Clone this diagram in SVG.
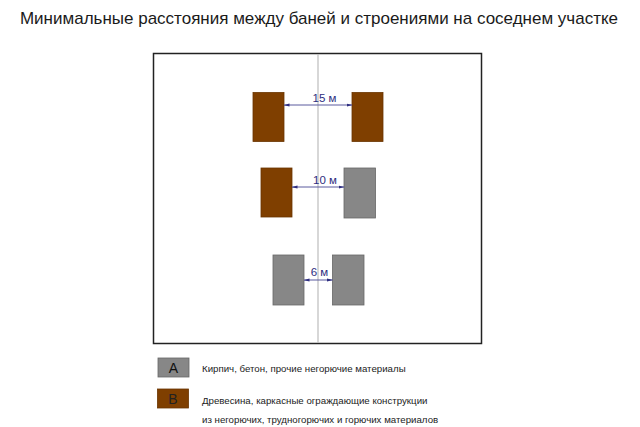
<svg xmlns="http://www.w3.org/2000/svg" width="640" height="427" viewBox="0 0 640 427">
<style>
.t{font-family:"Liberation Sans",Arial,sans-serif}
.brown{fill:#7f3f00;stroke:#6a3500;stroke-width:0.8}
.grey{fill:#878787;stroke:#666;stroke-width:0.8}
.dim{stroke:#5a5a9e;stroke-width:1;fill:none;marker-start:url(#a);marker-end:url(#a)}
.lbl{font-family:"Liberation Sans",Arial,sans-serif;font-size:11.5px;fill:#2e2e80}
.leg{font-family:"Liberation Sans",Arial,sans-serif;font-size:9.7px;fill:#222}
</style>
<defs>
<marker id="a" viewBox="0 0 6 6" refX="5.5" refY="3" markerWidth="6" markerHeight="6" orient="auto-start-reverse" markerUnits="userSpaceOnUse">
<path d="M0,1.5 L6,3 L0,4.5 Z" fill="#2e2e80"/>
</marker>
</defs>
<rect width="640" height="427" fill="#fff"/>
<text class="t" x="319" y="24" font-size="17" text-anchor="middle" fill="#1a1a1a">Минимальные расстояния между баней и строениями на соседнем участке</text>
<g id="plot">
<rect x="153.5" y="53.5" width="328" height="290" fill="#fff" stroke="#222" stroke-width="1.5"/>
<line x1="318" y1="54" x2="318" y2="343" stroke="#bdbdbd" stroke-width="1.2"/>
</g>
<g id="r1l"><rect class="brown" x="253" y="92.5" width="31" height="49"/></g>
<g id="r1r"><rect class="brown" x="352" y="92.5" width="31" height="49"/></g>
<g id="r2l"><rect class="brown" x="261" y="168" width="31" height="49"/></g>
<g id="r2r"><rect class="grey" x="344" y="168" width="31.5" height="50"/></g>
<g id="r3l"><rect class="grey" x="273" y="255" width="31" height="50"/></g>
<g id="r3r"><rect class="grey" x="332.5" y="255" width="31.5" height="50"/></g>
<g id="connectors">
<line class="dim" x1="284" y1="105" x2="352" y2="105"/>
<line class="dim" x1="292" y1="187" x2="344" y2="187"/>
<line class="dim" x1="304" y1="280" x2="332.5" y2="280"/>
</g>
<text class="lbl" x="324.5" y="102" text-anchor="middle">15 м</text>
<text class="lbl" x="325" y="184" text-anchor="middle">10 м</text>
<text class="lbl" x="319.5" y="276" text-anchor="middle">6 м</text>
<g id="legA">
<rect x="158" y="358" width="31" height="19" fill="#878787" stroke="#666" stroke-width="0.8"/>
<text class="t" x="173.5" y="373" font-size="14" text-anchor="middle" fill="#111">A</text>
<text class="leg" x="202" y="372">Кирпич, бетон, прочие негорючие материалы</text>
</g>
<g id="legB">
<rect x="157.5" y="389" width="31" height="19" fill="#7f3f00" stroke="#6a3500" stroke-width="0.8"/>
<text class="t" x="173" y="404" font-size="14" text-anchor="middle" fill="#222">B</text>
<text class="leg" x="202" y="403.5">Древесина, каркасные ограждающие конструкции</text>
<text class="leg" x="202" y="423">из негорючих, трудногорючих и горючих материалов</text>
</g>
</svg>
